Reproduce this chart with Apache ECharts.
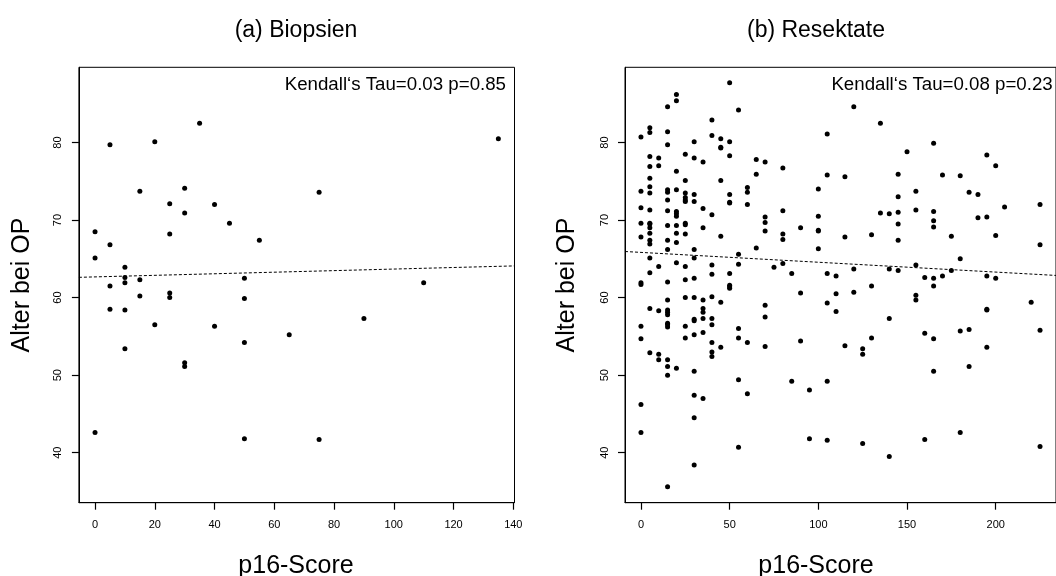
<!DOCTYPE html>
<html><head><meta charset="utf-8">
<script src="https://cdn.jsdelivr.net/npm/echarts@6/dist/echarts.min.js"></script>
<style>html,body{margin:0;padding:0;background:#fff}#c{width:1056px;height:576px}</style>
</head><body><div id="c"></div><script>
// (a) Biopsien
const biopScore = [35,5,20,135,15,30,75,25,40,30,45,0,25,55,5,0,10,10,50,10,15,5,110,25,25,15,50,5,10,90,20,40,65,50,10,30,30,0,50,75];
const biopAge   = [82.5,79.7,80.1,80.5,73.7,74.1,73.6,72.1,72.0,70.9,69.6,68.5,68.2,67.4,66.8,65.1,63.9,62.6,62.5,61.9,62.3,61.5,61.9,60.6,60.0,60.2,59.9,58.5,58.4,57.3,56.5,56.3,55.2,54.2,53.4,51.6,51.1,42.6,41.8,41.7];
// (b) Resektate: scores and the ages observed at each score
const resScores = [0,5,10,15,20,25,30,35,40,45,50,55,60,65,70,75,80,85,90,95,100,105,110,115,120,125,130,135,140,145,150,155,160,165,170,175,180,185,190,195,200,205,220,225];
const resAges = [
  [80.7,73.7,71.6,69.6,67.8,61.9,61.7,56.3,54.7,46.2,42.6],
  [81.9,81.3,78.2,76.9,75.4,74.3,73.5,71.3,69.6,69.5,69.0,68.3,67.4,66.9,65.1,63.2,58.6,52.9],
  [78.0,77.0,64.0,58.3,52.7,52.0],
  [84.6,81.4,79.7,73.9,73.6,72.6,71.2,69.3,67.4,66.2,62.0,59.7,58.4,58.1,57.8,56.7,56.5,56.2,52.0,51.1,50.0,35.6],
  [86.2,85.4,76.3,73.9,71.1,70.8,70.5,69.3,68.3,67.1,64.5,50.9],
  [78.5,75.1,73.5,72.9,72.6,72.4,69.6,69.4,68.2,64.0,62.3,60.0,56.3,54.8],
  [80.1,78.0,73.3,72.4,66.2,65.1,62.5,60.0,57.2,57.0,55.2,50.5,47.4,44.5,38.4],
  [77.5,71.5,69.0,59.7,58.6,58.1,57.3,55.5,47.0],
  [82.9,80.9,70.7,64.2,63.0,60.1,57.3,56.5,54.2,53.0,52.4],
  [80.5,79.4,79.3,75.1,67.9,59.4,53.6],
  [87.7,80.1,78.3,73.3,72.3,72.2,63.1,61.6,61.4,61.2],
  [84.2,65.6,64.3,56.0,54.8,49.4,40.7],
  [74.2,73.6,72.0,54.2,47.6],
  [77.8,75.9,66.4],
  [77.5,70.4,69.7,68.6,59.0,57.5,53.7],
  [63.9],
  [76.7,71.2,68.2,67.5,64.4],
  [63.1,49.2],
  [69.0,60.6,54.4],
  [48.1,41.8],
  [74.0,70.5,68.7,68.6,66.3],
  [81.1,75.8,63.1,59.3,49.2,41.6],
  [62.8,60.5,58.2],
  [75.6,67.8,53.8],
  [84.6,63.7,60.7],
  [53.4,52.7,41.2],
  [68.1,61.5,54.8],
  [82.5,70.9],
  [70.8,63.7,57.3,39.5],
  [75.9,73.0,71.0,69.5,67.4,63.5],
  [78.8],
  [73.7,71.3,64.2,60.3,59.7],
  [62.6,55.4,41.7],
  [79.9,71.1,69.9,69.1,62.5,61.5,54.7,50.5],
  [75.8,62.8],
  [67.9,63.5],
  [75.7,65.0,55.7,42.6],
  [73.6,55.9,51.1],
  [73.3,70.3],
  [78.4,70.4,62.8,58.5,58.4,53.6],
  [77.0,68.0,62.5],
  [71.7],
  [59.4],
  [72.0,66.8,55.8,40.8]
];
// fitted trend lines: [intercept, slope]
const biopFit = [62.67, 0.0101];
const resFit  = [65.83, -0.0127];
// ticks and texts
const xTicksA = [0,20,40,60,80,100,120,140];
const xTicksB = [0,50,100,150,200,250];
const yTicks  = [40,50,60,70,80];
const panelTitles = ['(a) Biopsien','(b) Resektate'];
const notes = ['Kendall\u2018s Tau=0.03 p=0.85','Kendall\u2018s Tau=0.08 p=0.23'];
const xName = 'p16-Score';
const yName = 'Alter bei OP';

const FONT = '"Liberation Sans", Arial, Helvetica, sans-serif';
const xRangeA = [-5.4, 140.4];
const xRangeB = [-9, 234];
const yRange = [33.55, 89.7];

const biopPts = biopScore.map((s,i)=>[s, biopAge[i]]);
const resPts = [];
resScores.forEach((s,i)=>resAges[i].forEach(a=>resPts.push([s,a])));
const fitLine = (f, r) => [[r[0], f[0]+f[1]*r[0]], [r[1], f[0]+f[1]*r[1]]];

const chart = echarts.init(document.getElementById('c'));
function xAxis(idx, rng, ticks){
  return {type:'value', gridIndex:idx, min:rng[0], max:rng[1], position:'bottom',
    axisLine:{show:true, onZero:false, lineStyle:{color:'#000', width:1}}, splitLine:{show:false},
    axisTick:{show:true, inside:false, length:7, customValues:ticks, lineStyle:{color:'#000', width:1.2}},
    axisLabel:{show:true, customValues:ticks, margin:17, fontSize:11, fontFamily:FONT, color:'#000'}};
}
function yAxis(idx){
  return {type:'value', gridIndex:idx, min:yRange[0], max:yRange[1], position:'left',
    axisLine:{show:true, onZero:false, lineStyle:{color:'#000', width:1}}, splitLine:{show:false},
    axisTick:{show:true, inside:false, length:7, customValues:yTicks, lineStyle:{color:'#000', width:1.2}},
    axisLabel:{show:true, customValues:yTicks, rotate:90, margin:15, fontSize:11, fontFamily:FONT, color:'#000'}};
}
function txt(x, y, text, size, align, rot){
  return {type:'text', x:x, y:y, rotation:rot||0, silent:true,
    style:{text:text, fontSize:size, fontFamily:FONT, fill:'#000', align:align||'center', verticalAlign:'middle', textAlign:align||'center', textVerticalAlign:'middle'}};
}
chart.setOption({
  animation:false,
  backgroundColor:'#fff',
  grid:[
    {left:78.9, top:67.3, width:435.6, height:435.4, show:true, borderColor:'#000', borderWidth:1, backgroundColor:'transparent'},
    {left:625, top:67.3, width:435.6, height:435.4, show:true, borderColor:'#000', borderWidth:1, backgroundColor:'transparent'}
  ],
  xAxis:[xAxis(0, xRangeA, xTicksA), xAxis(1, xRangeB, xTicksB)],
  yAxis:[yAxis(0), yAxis(1)],
  series:[
    {type:'scatter', xAxisIndex:0, yAxisIndex:0, data:biopPts, symbolSize:5, itemStyle:{color:'#000', opacity:1}, silent:true},
    {type:'line', xAxisIndex:0, yAxisIndex:0, data:fitLine(biopFit, xRangeA), symbol:'none', silent:true,
      lineStyle:{color:'#000', width:1, type:[3,2]}},
    {type:'scatter', xAxisIndex:1, yAxisIndex:1, data:resPts, symbolSize:5, itemStyle:{color:'#000', opacity:1}, silent:true},
    {type:'line', xAxisIndex:1, yAxisIndex:1, data:fitLine(resFit, xRangeB), symbol:'none', silent:true,
      lineStyle:{color:'#000', width:1, type:[3,2]}}
  ],
  graphic:[
    txt(296, 31, panelTitles[0], 23),
    txt(816, 31, panelTitles[1], 23),
    txt(506, 84.5, notes[0], 18.7, 'right'),
    txt(1052.7, 84.5, notes[1], 18.7, 'right'),
    txt(296, 566, xName, 25),
    txt(816, 566, xName, 25),
    txt(22, 285, yName, 25, 'center', Math.PI/2),
    txt(567, 285, yName, 25, 'center', Math.PI/2)
  ]
});
</script></body></html>
